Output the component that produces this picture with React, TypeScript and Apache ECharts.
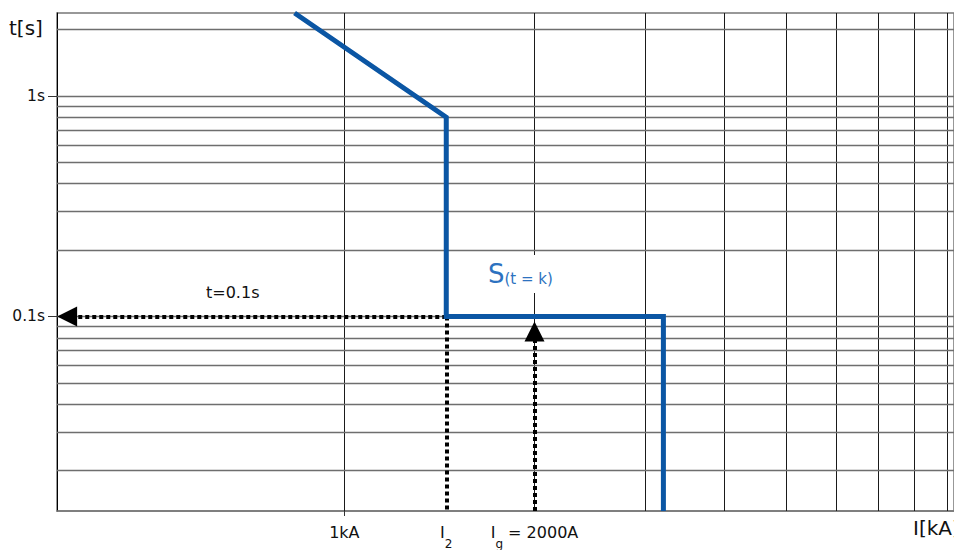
import React, { useEffect, useRef } from 'react';
import * as echarts from 'echarts';

// Axis ranges (current in A, time in s)
const xRange = [350.8, 9231];
const yRange = [0.01312, 2.375];

// Grid lines
const xGridValues = [1000, 2000, 3000, 4000, 5000, 6000, 7000, 8000, 9000];
const yGridValues = [2, 1, 0.9, 0.8, 0.7, 0.6, 0.5, 0.4, 0.3, 0.2, 0.1, 0.09, 0.08, 0.07, 0.06, 0.05, 0.04, 0.03, 0.02];

// Tripping curve S(t = k)
const curveI = [834, 1450, 1450, 3200, 3200];
const curveT = [2.375, 0.8, 0.1, 0.1, 0.01312];

// Reference values
const i2 = 1450;
const ig = 2000;
const tK = 0.1;
const arrowLeftI = 364;
const arrowUpT = 0.0855;

// Tick labels
const xLabelValues = [1000, 1450, 2000];
const xLabelTexts = ['1kA', '{m|I}{s|2}', '{m|I}{s|g}{m| = 2000A}'];
const xTickValues = [1000];
const yLabelValues = [0.1, 1];
const yLabelTexts = ['0.1s', '1s'];

const FONT = 'DejaVu Sans';

function pick(values: number[], texts: string[], v: number): string {
  for (let i = 0; i < values.length; i++) {
    if (Math.abs(Math.log10(v) - Math.log10(values[i])) < 2e-3) return texts[i];
  }
  return '';
}

export default function App() {
  const ref = useRef<HTMLDivElement>(null);
  useEffect(() => {
    if (!ref.current) return;
    const chart = echarts.init(ref.current, undefined, { renderer: 'svg' });
    const option: any = {
      animation: false,
      backgroundColor: '#fff',
      grid: {
        left: 57,
        top: 13,
        right: -2,
        bottom: 38,
        show: true,
        borderColor: '#777',
        borderWidth: 1.5,
        containLabel: false,
      },
      xAxis: {
        type: 'log',
        logBase: 10,
        min: xRange[0],
        max: xRange[1],
        splitLine: { show: false },
        axisLine: { show: true, lineStyle: { color: '#777', width: 1.5 } },
        axisTick: { show: true, customValues: xTickValues, length: 5, lineStyle: { color: '#333' } },
        axisLabel: {
          customValues: xLabelValues,
          margin: 13,
          color: '#111',
          fontFamily: FONT,
          fontSize: 16,
          formatter: (v: number) => pick(xLabelValues, xLabelTexts, v),
          rich: {
            m: { fontFamily: FONT, fontSize: 16, lineHeight: 16, verticalAlign: 'top', color: '#111' },
            s: { fontFamily: FONT, fontSize: 12, lineHeight: 12, padding: [14, 0, 0, 0], verticalAlign: 'top', color: '#111' },
          },
        },
      },
      yAxis: {
        type: 'log',
        logBase: 10,
        min: yRange[0],
        max: yRange[1],
        splitLine: { show: false },
        axisLine: { show: true, lineStyle: { color: '#000', width: 1 } },
        axisTick: { show: true, customValues: yLabelValues, length: 9, lineStyle: { color: '#333' } },
        axisLabel: {
          customValues: yLabelValues,
          margin: 12,
          color: '#111',
          fontFamily: FONT,
          fontSize: 15.5,
          formatter: (v: number) => pick(yLabelValues, yLabelTexts, v),
        },
      },
      series: [
        {
          name: 'grid',
          type: 'line',
          data: [],
          z: 1,
          silent: true,
          markLine: {
            silent: true,
            symbol: ['none', 'none'],
            label: { show: false },
            emphasis: { disabled: true },
            animation: false,
            data: [
              ...xGridValues.map((v) => ({ xAxis: v, lineStyle: { color: '#1a1a1a', width: 1, type: 'solid' } })),
              ...yGridValues.map((v) => ({ yAxis: v, lineStyle: { color: '#6e6e6e', width: 1.3, type: 'solid' } })),
            ],
          },
        },
        {
          name: 'guides',
          type: 'line',
          data: [],
          z: 3,
          silent: true,
          markLine: {
            silent: true,
            symbol: ['none', 'none'],
            symbolSize: 20,
            label: { show: false },
            emphasis: { disabled: true },
            animation: false,
            lineStyle: { color: '#000', width: 4, type: [4, 3], cap: 'butt' },
            data: [
              [
                { coord: [i2, tK], symbol: 'none' },
                { coord: [arrowLeftI, tK], symbol: 'triangle', symbolSize: 20 },
              ],
              [
                { coord: [i2, tK], symbol: 'none' },
                { coord: [i2, yRange[0]], symbol: 'none' },
              ],
              [
                { coord: [ig, yRange[0]], symbol: 'none' },
                { coord: [ig, arrowUpT], symbol: 'triangle', symbolSize: 20 },
              ],
            ],
          },
        },
        {
          name: 'S(t = k)',
          type: 'line',
          z: 5,
          symbol: 'none',
          lineStyle: { color: '#0b56a4', width: 5, cap: 'butt', join: 'miter' },
          data: curveI.map((x, i) => [x, curveT[i]]),
        },
      ],
      graphic: [
        {
          type: 'text',
          z: 100,
          left: 9,
          top: 18,
          style: { text: 't[s]', fontFamily: FONT, fontSize: 20, fill: '#111' },
        },
        {
          type: 'text',
          z: 100,
          left: 913,
          top: 518,
          style: { text: 'I[kA]', fontFamily: FONT, fontSize: 20, fill: '#111' },
        },
        {
          type: 'text',
          z: 100,
          left: 206,
          top: 284,
          style: { text: 't=0.1s', fontFamily: FONT, fontSize: 16, fill: '#111' },
        },
        {
          type: 'text',
          z: 100,
          x: 486,
          y: 255,
          style: {
            text: '{a|S}{b|(t = k)}',
            backgroundColor: '#fff',
            padding: [6, 2, 6, 2],
            verticalAlign: 'top',
            rich: {
              a: { fontFamily: FONT, fontSize: 26, lineHeight: 26, verticalAlign: 'top', fill: '#2d72c0', color: '#2d72c0' },
              b: { fontFamily: FONT, fontSize: 15, lineHeight: 16, padding: [10, 0, 0, 0], verticalAlign: 'top', fill: '#2d72c0', color: '#2d72c0' },
            },
          },
        },
      ],
    };
    chart.setOption(option);
    return () => chart.dispose();
  }, []);
  return (
    <div
      ref={ref}
      style={{ position: 'absolute', left: 0, top: 0, width: 954, height: 550, background: '#fff' }}
    />
  );
}
